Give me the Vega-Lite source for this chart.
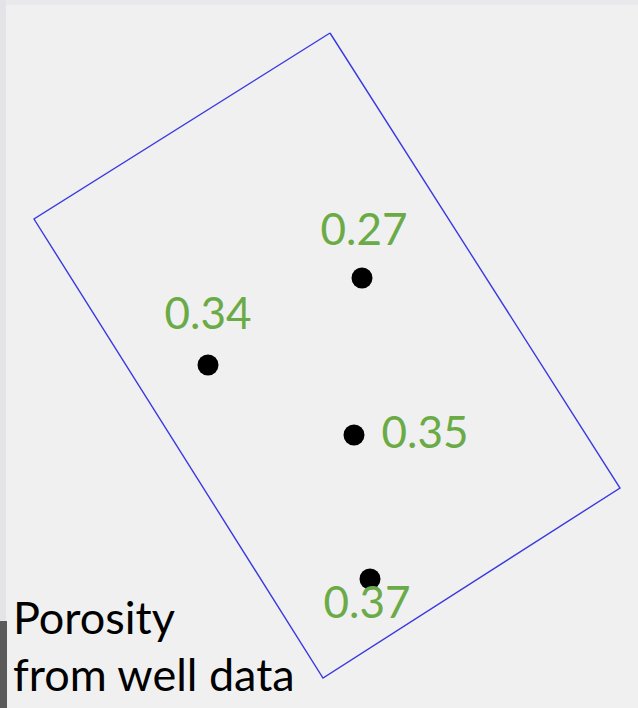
{
  "$schema": "https://vega.github.io/schema/vega-lite/v6.json",
  "autosize": {"type": "fit", "contains": "padding"},
  "width": 638,
  "height": 708,
  "padding": 0,
  "background": "#f0f0f0",
  "config": {"view": {"stroke": null}},
  "datasets": {
    "bands": [
      {"x0": 0, "x1": 638, "y0": 0, "y1": 5, "c": "#e9e9ec"},
      {"x0": 0, "x1": 6, "y0": 0, "y1": 621, "c": "#e3e3e8"},
      {"x0": 0, "x1": 7, "y0": 621, "y1": 708, "c": "#5a5a5a"}
    ],
    "outline": [
      {"order": 1, "x": 330, "y": 33},
      {"order": 2, "x": 620, "y": 488},
      {"order": 3, "x": 323, "y": 678},
      {"order": 4, "x": 34, "y": 219},
      {"order": 5, "x": 330, "y": 33}
    ],
    "wells": [
      {"x": 362, "y": 278, "porosity": "0.27", "lx": 364, "ly": 232},
      {"x": 208, "y": 365, "porosity": "0.34", "lx": 208, "ly": 316},
      {"x": 354, "y": 435, "porosity": "0.35", "lx": 425, "ly": 435},
      {"x": 370, "y": 579, "porosity": "0.37", "lx": 367, "ly": 605}
    ],
    "caption": [
      {"x": 13, "y": 634, "text": "Porosity"},
      {"x": 13, "y": 691, "text": "from well data"}
    ]
  },
  "layer": [
    {
      "data": {"name": "bands"},
      "mark": {"type": "rect"},
      "encoding": {
        "x": {"field": "x0", "type": "quantitative", "scale": {"domain": [0, 638], "nice": false}, "axis": null},
        "x2": {"field": "x1"},
        "y": {"field": "y0", "type": "quantitative", "scale": {"domain": [0, 708], "reverse": true, "nice": false}, "axis": null},
        "y2": {"field": "y1"},
        "color": {"field": "c", "type": "nominal", "scale": null, "legend": null}
      }
    },
    {
      "data": {"name": "outline"},
      "mark": {"type": "line", "color": "#3a3ae0", "strokeWidth": 1.4},
      "encoding": {
        "x": {"field": "x", "type": "quantitative", "scale": {"domain": [0, 638], "nice": false}, "axis": null},
        "y": {"field": "y", "type": "quantitative", "scale": {"domain": [0, 708], "reverse": true, "nice": false}, "axis": null},
        "order": {"field": "order", "type": "quantitative"}
      }
    },
    {
      "data": {"name": "wells"},
      "mark": {"type": "circle", "color": "#000000", "opacity": 1, "size": 440},
      "encoding": {
        "x": {"field": "x", "type": "quantitative", "scale": {"domain": [0, 638], "nice": false}, "axis": null},
        "y": {"field": "y", "type": "quantitative", "scale": {"domain": [0, 708], "reverse": true, "nice": false}, "axis": null}
      }
    },
    {
      "data": {"name": "wells"},
      "mark": {"type": "text", "color": "#6aab47", "font": "Lato", "fontSize": 44, "align": "center", "baseline": "middle"},
      "encoding": {
        "x": {"field": "lx", "type": "quantitative", "scale": {"domain": [0, 638], "nice": false}, "axis": null},
        "y": {"field": "ly", "type": "quantitative", "scale": {"domain": [0, 708], "reverse": true, "nice": false}, "axis": null},
        "text": {"field": "porosity", "type": "nominal"}
      }
    },
    {
      "data": {"name": "caption"},
      "mark": {"type": "text", "color": "#000000", "font": "Lato", "fontSize": 45, "align": "left", "baseline": "alphabetic"},
      "encoding": {
        "x": {"field": "x", "type": "quantitative", "scale": {"domain": [0, 638], "nice": false}, "axis": null},
        "y": {"field": "y", "type": "quantitative", "scale": {"domain": [0, 708], "reverse": true, "nice": false}, "axis": null},
        "text": {"field": "text", "type": "nominal"}
      }
    }
  ]
}
